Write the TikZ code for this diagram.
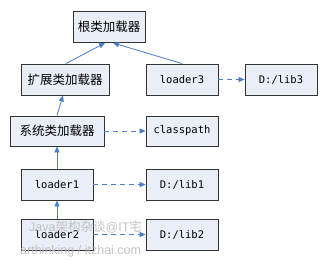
\documentclass[tikz,border=0pt]{standalone}
\usepackage{fontspec}
\newfontfamily\cjk{Noto Sans CJK SC}
\newfontfamily\mono{DejaVu Sans Mono}
\newfontfamily\wm{Liberation Sans}
\usetikzlibrary{arrows.meta}
\definecolor{boxfill}{HTML}{E9EEF7}
\definecolor{boxline}{HTML}{333333}
\definecolor{arr}{HTML}{4A7CC8}
\begin{document}
\begin{tikzpicture}[x=1pt,y=-1pt,
  box/.style={draw=boxline,line width=0.9pt,fill=boxfill,minimum height=31pt,inner sep=0pt,anchor=center},
  cn/.style={box,font=\cjk\fontsize{12.5}{14}\selectfont},
  mn/.style={box,font=\mono\fontsize{10.5}{12}\selectfont},
  up/.style={draw=arr,line width=0.8pt,-{Triangle[length=6pt,width=5pt]}},
  dsh/.style={draw=arr,line width=0.8pt,dash pattern=on 5pt off 4pt,-{Triangle[length=6pt,width=5pt]}},
  wmark/.style={text=gray!55,opacity=0.85,font=\wm\fontsize{12.5}{14}\selectfont,anchor=west,inner sep=0pt}]
\useasboundingbox[fill=white] (0,0) rectangle (328,263);
\node[cn,minimum width=72pt] (root) at (109,27) {根类加载器};
\node[cn,minimum width=88pt] (ext) at (65,79.5) {扩展类加载器};
\node[mn,minimum width=72pt] (l3) at (182,79.5) {loader3};
\node[mn,minimum width=72pt] (lib3) at (281,79.5) {D:/lib3};
\node[cn,minimum width=94pt,minimum height=30pt] (sys) at (57,131) {系统类加载器};
\node[mn,minimum width=72pt,minimum height=30pt] (cp) at (182,131) {classpath};
\node[mn,minimum width=72pt] (l1) at (57,184.5) {loader1};
\node[mn,minimum width=72pt] (lib1) at (182,184.5) {D:/lib1};
\node[mn,minimum width=72pt] (l2) at (57,234.5) {loader2};
\node[mn,minimum width=72pt] (lib2) at (182,234.5) {D:/lib2};
\draw[up] ([xshift=1pt]ext.north) -- ([xshift=-4pt]root.south);
\draw[up] (l3.north) -- ([xshift=4pt]root.south);
\draw[up] (sys.north) -- ([xshift=-2pt]ext.south);
\draw[up] (l1.north) -- (sys.south);
\draw[up] (l2.north) -- (l1.south);
\draw[dsh] (l3.east) -- (lib3.west);
\draw[dsh] (sys.east) -- (cp.west);
\draw[dsh] (l1.east) -- (lib1.west);
\draw[dsh] (l2.east) -- (lib2.west);
\node[wmark] (wm1) at (29,227) {Java{\cjk 架构杂谈}@IT{\cjk 宅}};
\node[wmark] (wm2) at (20,251.5) {arthinking / itzhai.com};
\end{tikzpicture}
\end{document}
